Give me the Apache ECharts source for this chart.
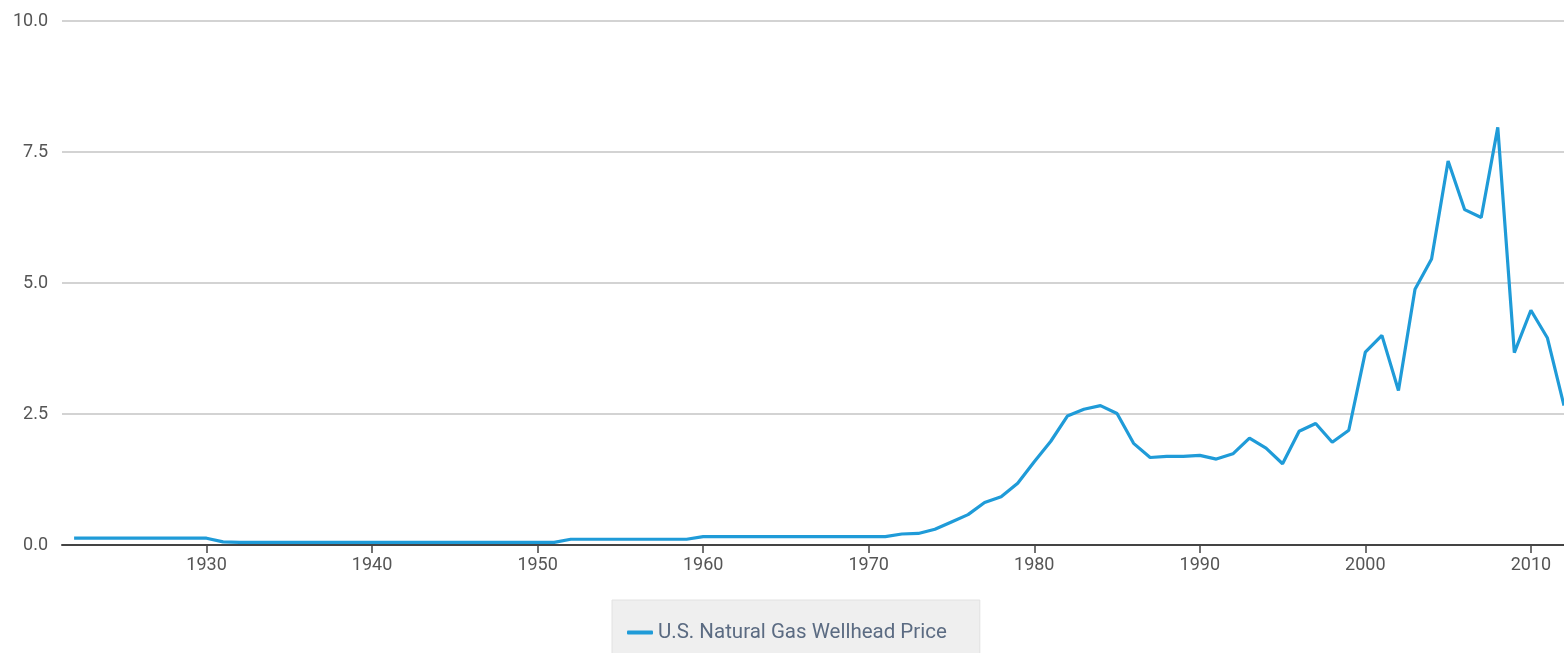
<!DOCTYPE html>
<html>
<head>
<meta charset="utf-8">
<script src="https://cdn.jsdelivr.net/npm/echarts@6/dist/echarts.min.js"></script>
<style>
html,body{margin:0;padding:0;background:#fff;}
#chart{width:1564px;height:653px;}
</style>
</head>
<body>
<div id="chart"></div>
<script>
const years = [1922,1923,1924,1925,1926,1927,1928,1929,1930,1931,1932,1933,1934,1935,1936,1937,1938,1939,1940,1941,1942,1943,1944,1945,1946,1947,1948,1949,1950,1951,1952,1953,1954,1955,1956,1957,1958,1959,1960,1961,1962,1963,1964,1965,1966,1967,1968,1969,1970,1971,1972,1973,1974,1975,1976,1977,1978,1979,1980,1981,1982,1983,1984,1985,1986,1987,1988,1989,1990,1991,1992,1993,1994,1995,1996,1997,1998,1999,2000,2001,2002,2003,2004,2005,2006,2007,2008,2009,2010,2011,2012];
const prices = [0.13,0.13,0.13,0.13,0.13,0.13,0.13,0.13,0.13,0.06,0.05,0.05,0.05,0.05,0.05,0.05,0.05,0.05,0.05,0.05,0.05,0.05,0.05,0.05,0.05,0.05,0.05,0.05,0.05,0.05,0.11,0.11,0.11,0.11,0.11,0.11,0.11,0.11,0.16,0.16,0.16,0.16,0.16,0.16,0.16,0.16,0.16,0.16,0.16,0.16,0.21,0.22,0.30,0.44,0.58,0.81,0.92,1.18,1.59,1.98,2.46,2.59,2.66,2.51,1.94,1.67,1.69,1.69,1.71,1.64,1.74,2.04,1.85,1.55,2.17,2.32,1.96,2.19,3.68,4.00,2.95,4.88,5.46,7.33,6.40,6.25,7.97,3.67,4.48,3.95,2.66];
const xTicks = [1930,1940,1950,1960,1970,1980,1990,2000,2010];
const yTicks = [0,2.5,5,7.5,10];
const seriesName = 'U.S. Natural Gas Wellhead Price';

const FONT = "Roboto,'Liberation Sans',sans-serif";
const chart = echarts.init(document.getElementById('chart'));
chart.setOption({
  animation:false,
  grid:{left:62,right:-2,top:21,bottom:108,containLabel:false},
  xAxis:{
    type:'value', min:1921.27, max:2012,
    splitLine:{show:false},
    axisLine:{lineStyle:{color:'#444',width:2}},
    axisTick:{show:true,length:8,lineStyle:{color:'#444',width:1.5},customValues:xTicks},
    axisLabel:{customValues:xTicks,color:'#555',fontSize:18,fontFamily:FONT,margin:11,formatter:v=>String(v)}
  },
  yAxis:{
    type:'value', min:0, max:10, interval:2.5,
    axisLine:{show:false}, axisTick:{show:false},
    splitLine:{lineStyle:{color:'#d3d3d3',width:2}},
    axisLabel:{color:'#555',fontSize:18,fontFamily:FONT,margin:14,formatter:v=>v.toFixed(1)}
  },
  legend:{
    data:[seriesName], left:612, top:600,
    backgroundColor:'#efefef', borderColor:'#e2e2e2', borderWidth:1,
    padding:[22,33,28,15],
    icon:'roundRect', itemWidth:26, itemHeight:4, itemGap:10,
    textStyle:{color:'#5b6b82',fontSize:20.5,fontFamily:FONT}
  },
  series:[{
    name:seriesName, type:'line', showSymbol:false,
    data:years.map((y,i)=>[y,prices[i]]),
    lineStyle:{color:'#1f9bd8',width:3.2},
    itemStyle:{color:'#1f9bd8'}
  }]
});
</script>
</body>
</html>
